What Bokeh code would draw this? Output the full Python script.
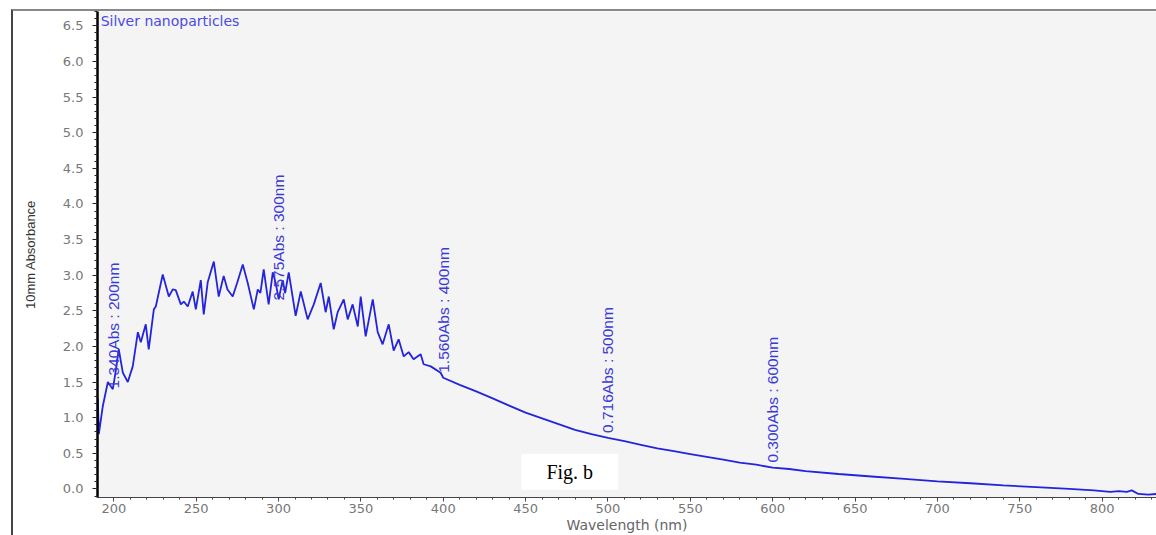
from math import pi
from bokeh.plotting import figure
from bokeh.models import (Range1d, SingleIntervalTicker, Label, InlineStyleSheet,
                          NumeralTickFormatter, ColumnDataSource)
from bokeh.core.properties import value
from bokeh.embed import file_html
from bokeh.resources import INLINE

# ---------------- data ----------------
wavelength = [190.3, 190.9, 193.3, 196.4, 199.4, 201.0, 203.0, 205.5, 208.5, 211.5,
              214.6, 216.4, 219.4, 221.2, 224.3, 225.5, 229.7, 233.4, 235.8, 237.6,
              240.7, 242.5, 244.9, 247.9, 249.8, 252.8, 254.6, 257.0, 260.7, 263.7,
              266.7, 269.0, 272.2, 275.0, 278.3, 281.3, 285.0, 287.4, 289.0, 291.0,
              294.0, 296.5, 298.3, 300.1, 302.5, 304.0, 306.2, 310.4, 313.5, 317.7,
              321.4, 325.6, 328.6, 330.5, 333.5, 335.9, 339.6, 342.0, 345.0, 348.1,
              349.9, 352.9, 357.2, 360.2, 363.2, 366.9, 369.9, 372.9, 376.0, 379.0,
              382.0, 386.3, 388.1, 392.4, 398.4, 400.0, 410.0, 420.0, 430.0, 440.0,
              450.0, 460.0, 470.0, 480.0, 490.0, 500.0, 510.0, 520.0, 530.0, 540.0,
              550.0, 560.0, 570.0, 580.0, 590.0, 600.0, 610.0, 620.0, 640.0, 660.0,
              680.0, 700.0, 720.0, 740.0, 760.0, 780.0, 795.0, 800.0, 805.0, 810.0,
              815.0, 818.0, 822.0, 828.0, 833.0]
absorbance = [1.27, 0.77, 1.16, 1.50, 1.40, 1.63, 1.96, 1.63, 1.50, 1.72,
              2.20, 2.06, 2.31, 1.96, 2.52, 2.56, 3.01, 2.70, 2.80, 2.79,
              2.59, 2.63, 2.56, 2.77, 2.52, 2.93, 2.45, 2.90, 3.19, 2.70,
              2.99, 2.80, 2.70, 2.90, 3.15, 2.89, 2.52, 2.80, 2.75, 3.08,
              2.59, 3.04, 2.89, 2.66, 2.93, 2.75, 3.04, 2.43, 2.77, 2.38,
              2.59, 2.89, 2.48, 2.70, 2.24, 2.48, 2.66, 2.38, 2.59, 2.28,
              2.70, 2.14, 2.66, 2.20, 2.03, 2.31, 1.94, 2.10, 1.86, 1.92,
              1.82, 1.89, 1.75, 1.72, 1.63, 1.56, 1.46, 1.37, 1.27, 1.17,
              1.07, 0.99, 0.91, 0.83, 0.77, 0.716, 0.67, 0.62, 0.57, 0.53,
              0.49, 0.45, 0.41, 0.37, 0.34, 0.30, 0.28, 0.25, 0.21, 0.175,
              0.14, 0.105, 0.08, 0.05, 0.025, 0.0, -0.02, -0.03, -0.04, -0.03,
              -0.04, -0.02, -0.07, -0.08, -0.07]

peak_nm = [200, 300, 400, 500, 600]
peak_abs = [1.340, 2.575, 1.560, 0.716, 0.300]
peak_text = ["1.340Abs : 200nm", "2.575Abs : 300nm", "1.560Abs : 400nm",
             "0.716Abs : 500nm", "0.300Abs : 600nm"]

series_name = "Silver nanoparticles"
x_title = "Wavelength (nm)"
y_title = "10mm Absorbance"
fig_tag = "Fig. b"

# ---------------- figure ----------------
p = figure(width=1156, height=535, output_backend="svg", toolbar_location=None,
           x_range=Range1d(190.1, 833.0), y_range=Range1d(-0.12, 6.70),
           min_border_left=97, min_border_right=0, min_border_top=11,
           min_border_bottom=37)
p.background_fill_color = "#f4f4f4"
p.border_fill_color = "white"
p.outline_line_color = None
p.xgrid.grid_line_color = None
p.ygrid.grid_line_color = None

# outer frame lines (top and left) drawn with a stylesheet
p.stylesheets = [InlineStyleSheet(css=(
    ":host { position: relative; }"
    ":host::after { content: ''; position: absolute; left: 11px; top: 9px; "
    "width: 1300px; height: 600px; border-left: 2px solid #444; "
    "border-top: 2px solid #888; border-right: none; border-bottom: none; "
    "box-sizing: border-box; pointer-events: none; }"))]

# x axis
p.xaxis.ticker = SingleIntervalTicker(interval=50, num_minor_ticks=5)
p.xaxis.axis_label = x_title
p.xaxis.axis_label_text_font = "DejaVu Sans"
p.xaxis.axis_label_text_font_style = "normal"
p.xaxis.axis_label_text_font_size = "14px"
p.xaxis.axis_label_text_color = "#666666"
p.xaxis.axis_label_standoff = 1
p.xaxis.major_label_text_font = "DejaVu Sans"
p.xaxis.major_label_text_font_size = "13px"
p.xaxis.major_label_text_color = "#777777"
p.xaxis.major_label_standoff = 2
p.xaxis.axis_line_color = "#444444"
p.xaxis.major_tick_line_color = "#444444"
p.xaxis.minor_tick_line_color = "#444444"
p.xaxis.major_tick_in = 0
p.xaxis.major_tick_out = 4
p.xaxis.minor_tick_in = 0
p.xaxis.minor_tick_out = 2

# y axis
p.yaxis.ticker = SingleIntervalTicker(interval=0.5, num_minor_ticks=5)
p.yaxis.formatter = NumeralTickFormatter(format="0.0")
p.yaxis.axis_label = y_title
p.yaxis.axis_label_text_font = "Liberation Sans"
p.yaxis.axis_label_text_font_style = "normal"
p.yaxis.axis_label_text_font_size = "13px"
p.yaxis.axis_label_text_color = "#333333"
p.yaxis.axis_label_standoff = 22
p.yaxis.major_label_text_font = "DejaVu Sans"
p.yaxis.major_label_text_font_size = "13px"
p.yaxis.major_label_text_color = "#777777"
p.yaxis.major_label_standoff = 9
p.yaxis.axis_line_color = "black"
p.yaxis.axis_line_width = 2.5
p.yaxis.major_tick_line_color = "#222222"
p.yaxis.minor_tick_line_color = "#222222"
p.yaxis.major_tick_in = 0
p.yaxis.major_tick_out = 5
p.yaxis.minor_tick_in = 0
p.yaxis.minor_tick_out = 3

# spectrum
src = ColumnDataSource(dict(x=wavelength, y=absorbance))
p.line("x", "y", source=src, line_color="#2424dc", line_width=1.8)

# peak pick annotations
asrc = ColumnDataSource(dict(x=peak_nm, y=peak_abs, t=peak_text))
p.text("x", "y", text="t", source=asrc, angle=pi / 2, text_align="left",
       text_baseline="middle", text_font=value("Liberation Sans"),
       text_font_size="15.5px", text_color="#3a3ad6", y_offset=-5)

# series name
p.add_layout(Label(x=192.0, y=6.68, text=series_name, text_align="left",
                   text_baseline="top", text_font="DejaVu Sans",
                   text_font_size="14px", text_color="#4a4ae6"))

# figure tag
p.add_layout(Label(x=476.8, y=0.24, text=fig_tag, text_align="center",
                   text_baseline="middle", text_font="Liberation Serif",
                   text_font_size="20px", text_color="black",
                   background_fill_color="white", padding=dict(x=25, y=7)))

open("out.html", "w").write(file_html(p, INLINE))
